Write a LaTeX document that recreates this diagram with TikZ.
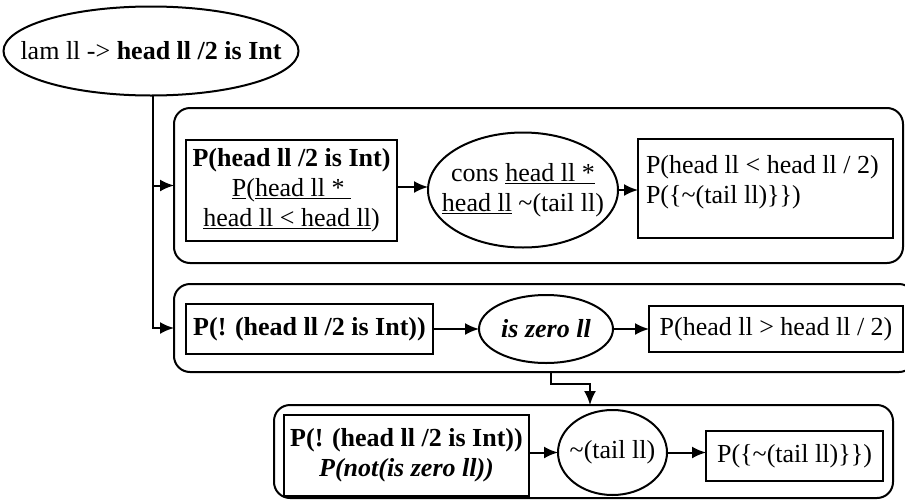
\documentclass[tikz,border=0pt]{standalone}
\usepackage{fontspec}
\setmainfont{Liberation Serif}
\usetikzlibrary{shapes.geometric,arrows.meta,calc}
\begin{document}
\begin{tikzpicture}[x=1pt,y=-1pt,line width=2pt,
  every node/.style={font=\fontsize{26}{30}\selectfont, inner sep=0pt, outer sep=0pt},
  box/.style={draw, rectangle, align=center},
  oval/.style={draw, ellipse},
  txt/.style={align=center},
  group/.style={draw, rectangle, rounded corners=16pt},
  arr/.style={-{Latex[length=14pt,width=12pt]}}]
\useasboundingbox (0,0) rectangle (905,501);

% top ellipse
\node[oval, minimum width=295pt, minimum height=89pt] (top) at (151,51) {};
\node[txt] (topt) at (top.center) {lam ll -> \textbf{head ll /2 is Int}};

% containers
\node[group, minimum width=729pt, minimum height=155pt] (c1) at (538.5,185.5) {};
\node[group, minimum width=741pt, minimum height=88pt] (c2) at (544.5,328) {};
\node[group, minimum width=619pt, minimum height=93pt] (c3) at (583.5,451.5) {};

% row 1
\node[box, minimum width=211pt, minimum height=101pt] (A1) at (291.5,190.5)
  {\textbf{P(head ll /2 is Int)}\\ \underline{P}(\underline{head ll * }\\ \underline{head ll < head ll})};
\node[oval, minimum width=190pt, minimum height=115pt] (B1) at (523,190) {};
\node[txt] (B1t) at (B1.center)
  {cons \underline{head ll *}\\ \underline{head ll} \textasciitilde(tail ll)};
\node[box, minimum width=255pt, minimum height=99pt] (C1) at (765.5,188.5) {};
\node[anchor=north west, align=left] (C1t) at (646,155)
  {P(head ll < head ll / 2)\\ P(\{\textasciitilde(tail ll)\}\})};

% row 2
\node[box, minimum width=247pt, minimum height=50pt] (A2) at (309.5,329)
  {\textbf{P(! (head ll /2 is Int))}};
\node[oval, minimum width=134pt, minimum height=68pt] (B2) at (546,329) {};
\node[txt] (B2t) at (B2.center) {\textbf{\textit{is zero ll}}};
\node[box, minimum width=254pt, minimum height=46pt] (C2) at (776,329)
  {P(head ll > head ll / 2)};

% row 3
\node[box, minimum width=245pt, minimum height=81pt] (A3) at (406.5,455.5)
  {\textbf{P(! (head ll /2 is Int))}\\ \textbf{\textit{P(not(is zero ll))}}};
\node[oval, minimum width=109pt, minimum height=85pt] (B3) at (612.5,452.5) {};
\node[txt] (B3t) at (B3.center) {\textasciitilde(tail ll)};
\node[box, minimum width=177pt, minimum height=50pt] (C3) at (794.5,456)
  {P(\{\textasciitilde(tail ll)\}\})};

% connectors
\draw[arr] (top.south -| 153,0) |- (c2.west);
\draw[arr] (c1.west -| 153,0) -- (c1.west);
\draw[arr] (A1.east |- 0,187) -- (B1.west |- 0,187);
\draw[arr] (B1.east) -- (C1.west |- B1.east);
\draw[arr] (A2.east) -- (B2.west);
\draw[arr] (B2.east) -- (C2.west);
\draw[arr] (A3.east |- B3.west) -- (B3.west);
\draw[arr] (B3.east) -- (B3.east -| C3.west);

\coordinate (k1) at (551,384);
\coordinate (k2) at (590,384);
\draw[arr] (k1 |- c2.south) -- (k1) -- (k2) -- (k2 |- c3.north);
\end{tikzpicture}
\end{document}
